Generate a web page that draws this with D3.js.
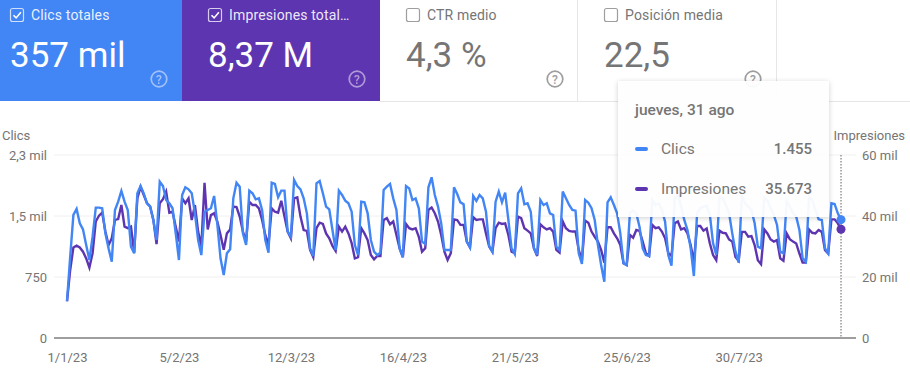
<!DOCTYPE html>
<html>
<head>
<meta charset="utf-8">
<script src="https://cdn.jsdelivr.net/npm/d3@7"></script>
<style>
  body { margin: 0; background: #fff; }
  svg { display: block; font-family: Roboto, sans-serif; }
</style>
</head>
<body>
<svg id="chart" width="910" height="391"></svg>
<script>
// one row per week, starting Sunday 1/1/23
const clicks = [
  455, 1000, 1513, 1586, 1410, 1336, 1143,
  959, 1246, 1603, 1603, 1595, 1287, 1102,
  939, 1574, 1676, 1808, 1676, 1574, 1123,
  1041, 1779, 1869, 1779, 1656, 1615, 1451,
  1205, 1922, 1869, 1697, 1656, 1595, 1287,
  959, 1758, 1853, 1828, 1779, 1533, 1205,
  1020, 1553, 1574, 1595, 1746, 1400, 980,
  775, 1041, 1090, 1717, 1910, 1861, 1287,
  1143, 1812, 1779, 1705, 1717, 1574, 1205,
  1049, 1910, 1894, 1730, 1812, 1812, 1308,
  1246, 1943, 1869, 1828, 1717, 1533, 1102,
  1008, 1902, 1931, 1779, 1615, 1582, 1328,
  1082, 1812, 1758, 1689, 1656, 1553, 1143,
  1020, 1676, 1668, 1533, 1205, 1062, 1020,
  1049, 1820, 1861, 1894, 1717, 1574, 1102,
  992, 1869, 1840, 1697, 1717, 1595, 1185,
  1156, 1853, 1976, 1758, 1615, 1410, 1082,
  1082, 1082, 1853, 1771, 1668, 1644, 1185,
  1115, 1746, 1685, 1758, 1717, 1553, 1131,
  1062, 1676, 1800, 1668, 1787, 1451, 1102,
  1033, 1779, 1840, 1644, 1656, 1553, 1102,
  1020, 1697, 1635, 1656, 1533, 1513, 1123,
  1082, 1800, 1717, 1635, 1574, 1566, 1041,
  910, 1697, 1664, 1595, 1451, 1143, 897,
  692, 1668, 1730, 1635, 1533, 1287, 918,
  897, 1541, 1566, 1533, 1369, 1102, 1020,
  1008, 1697, 1635, 1656, 1574, 1431, 1020,
  889, 1717, 1779, 1615, 1451, 1328, 1102,
  762, 1533, 1595, 1615, 1623, 1513, 1164,
  1021, 1730, 1718, 1636, 1533, 1287, 1062,
  926, 1759, 1656, 1615, 1574, 1410, 1123,
  1103, 1718, 1689, 1595, 1513, 1390, 1062,
  1041, 1677, 1615, 1533, 1492, 1328, 980,
  939, 1730, 1697, 1574, 1459, 1451, 1103,
  1041, 1656, 1648, 1533, 1455
]

const impressions = [
  12000, 22300, 29700, 30300, 29700, 28300, 26100,
  23100, 27800, 38200, 40100, 41100, 34900, 30500,
  32700, 38700, 39000, 43600, 36500, 36000, 36500,
  28000, 45800, 49600, 46900, 44200, 43100, 38700,
  30800, 44200, 45500, 48000, 41100, 41400, 36500,
  31600, 45800, 44200, 45800, 38700, 43600, 34900,
  30000, 50900, 35600, 40300, 40900, 38200, 33800,
  28900, 34300, 35600, 43100, 42900, 39800, 34900,
  31600, 44700, 43600, 43600, 42500, 38700, 33800,
  30500, 42500, 41400, 41100, 45000, 39800, 34900,
  32700, 45800, 46100, 39800, 35400, 35100, 28900,
  26500, 36000, 37800, 37400, 34300, 32700, 30200,
  28500, 36500, 34900, 36500, 34300, 31100, 26100,
  26500, 36000, 34300, 32100, 27200, 25800, 26900,
  26900, 38700, 39300, 37300, 38200, 33800, 29400,
  26500, 37400, 36000, 35600, 36000, 33200, 28300,
  29400, 42000, 42800, 40900, 38200, 33800, 28300,
  25600, 27800, 38900, 38700, 37100, 37100, 31600,
  29700, 39600, 38700, 38900, 38900, 34300, 30000,
  28300, 36000, 37800, 37400, 37600, 33800, 28300,
  27800, 39800, 39300, 36000, 35200, 34300, 29400,
  26900, 37300, 36300, 35600, 36000, 34900, 28900,
  28000, 38200, 36000, 35100, 34900, 34900, 28900,
  25400, 38500, 37800, 34900, 33200, 31600, 28900,
  24700, 36300, 36300, 34300, 32700, 30500, 24500,
  23900, 33800, 32900, 35400, 35100, 31600, 27800,
  26900, 37100, 36000, 36300, 34900, 32700, 27800,
  26900, 37600, 38200, 35600, 36000, 34300, 30500,
  25000, 36700, 36700, 35200, 35900, 31000, 27200,
  25500, 35200, 34500, 34300, 32300, 31600, 26600,
  25300, 34800, 34800, 33200, 33400, 30500, 25500,
  24200, 35600, 34300, 32300, 31600, 32100, 26100,
  25300, 34300, 32400, 31600, 31000, 27700, 24700,
  24700, 35600, 34500, 34300, 35400, 34800, 28800,
  27700, 38900, 38900, 37600, 35673
]

const leftTicks = [0, 750, 1500, 2250]
const leftLabels = ["0", "750", "1,5 mil", "2,3 mil"]
const rightTicks = [0, 20000, 40000, 60000]
const rightLabels = ["0", "20 mil", "40 mil", "60 mil"]
const dateTicks = [0, 35, 70, 105, 140, 175, 210]
const dateLabels = ["1/1/23", "5/2/23", "12/3/23", "16/4/23", "21/5/23", "25/6/23", "30/7/23"]

const metricNames = ["Clics totales", "Impresiones total…", "CTR medio", "Posición media"]
const metricValues = ["357 mil", "8,37 M", "4,3 %", "22,5"]

const BLUE = "#4285f4"
const PURPLE = "#5e35b1"
const GREY = "#757575"

const svg = d3.select("#chart")
const margin = { left: 54, right: 856, top: 155, bottom: 338 }

// Scales
const xScale = d3.scaleLinear().domain([0, clicks.length - 1]).range([67, 841])
const yClicks = d3.scaleLinear().domain([0, 2250]).range([margin.bottom, margin.top])
const yImpr = d3.scaleLinear().domain([0, 60000]).range([margin.bottom, margin.top])

// Metric cards, the first one is narrower with a smaller inset
const cardX = d3.scaleBand().domain(metricNames).range([-16, 776]).padding(0)
const inset = i => i == 0 ? 10 : 26

const cards = svg.selectAll("g.card")
  .data(metricNames)
  .enter().append("g")
  .attr("class", "card")
  .attr("transform", (d, i) => "translate(" + (i == 0 ? 0 : cardX(d)) + ",0)")

cards.append("rect")
  .attr("width", (d, i) => i == 0 ? 182 : 198)
  .attr("height", 101)
  .attr("fill", (d, i) => [BLUE, PURPLE, "#fff", "#fff"][i])

cards.append("rect")
  .attr("x", (d, i) => inset(i) + .5)
  .attr("y", 8.5)
  .attr("width", 13)
  .attr("height", 13)
  .attr("rx", 2)
  .attr("fill", "none")
  .attr("stroke", (d, i) => i < 2 ? "rgba(255,255,255,.75)" : "#9e9e9e")
  .attr("stroke-width", 1.2)

cards.filter((d, i) => i < 2).append("path")
  .attr("transform", (d, i) => "translate(" + (inset(i) + .5) + ",8.5)")
  .attr("d", "M3 6.8 L5.6 9.4 L10.4 3.8")
  .attr("fill", "none")
  .attr("stroke", "#fff")
  .attr("stroke-width", 1.6)

cards.append("text")
  .attr("x", (d, i) => inset(i) + 21)
  .attr("y", 20)
  .attr("font-size", "14px")
  .attr("letter-spacing", ".15px")
  .attr("fill", (d, i) => i < 2 ? "rgba(255,255,255,.9)" : GREY)
  .text(d => d)

cards.append("text")
  .attr("x", (d, i) => inset(i))
  .attr("y", 67)
  .attr("font-size", "35px")
  .attr("fill", (d, i) => i < 2 ? "#fff" : GREY)
  .text((d, i) => metricValues[i])

const help = cards.append("g")
  .attr("transform", (d, i) => "translate(" + (i == 0 ? 159 : 175) + ",79)")
  .attr("opacity", (d, i) => i < 2 ? .5 : 1)
help.append("circle")
  .attr("r", 7.8)
  .attr("fill", "none")
  .attr("stroke", (d, i) => i < 2 ? "#fff" : "#9e9e9e")
  .attr("stroke-width", 1.7)
help.append("text")
  .attr("text-anchor", "middle")
  .attr("y", 4.5)
  .attr("font-size", "12px")
  .attr("font-weight", 500)
  .attr("fill", (d, i) => i < 2 ? "#fff" : "#9e9e9e")
  .text("?")

// card borders
svg.append("line").attr("x1", 380).attr("x2", 910).attr("y1", 101.5).attr("y2", 101.5).attr("stroke", "#e6e6e6")
svg.selectAll("line.sep")
  .data([577.5, 776.5])
  .enter().append("line")
  .attr("class", "sep")
  .attr("x1", d => d).attr("x2", d => d)
  .attr("y1", 0).attr("y2", 101)
  .attr("stroke", "#e6e6e6")

// Gridlines
svg.append("g").selectAll("line")
  .data(leftTicks.slice(1))
  .enter().append("line")
  .attr("x1", margin.left).attr("x2", margin.right)
  .attr("y1", d => yClicks(d)).attr("y2", d => yClicks(d))
  .attr("stroke", "#f0f0f0")

// Axes
const leftAxis = svg.append("g")
  .attr("transform", "translate(" + margin.left + ",0)")
  .call(d3.axisLeft(yClicks).tickValues(leftTicks).tickSize(0).tickPadding(7)
    .tickFormat((d, i) => leftLabels[i]))
const rightAxis = svg.append("g")
  .attr("transform", "translate(" + margin.right + ",0)")
  .call(d3.axisRight(yImpr).tickValues(rightTicks).tickSize(0).tickPadding(6)
    .tickFormat((d, i) => rightLabels[i]))
const bottomAxis = svg.append("g")
  .attr("transform", "translate(0," + margin.bottom + ")")
  .call(d3.axisBottom(xScale).tickValues(dateTicks).tickSize(0).tickPadding(15)
    .tickFormat((d, i) => dateLabels[i]))

;[leftAxis, rightAxis, bottomAxis].forEach(axis => {
  axis.select(".domain").remove()
  axis.selectAll("text")
    .attr("fill", GREY)
    .attr("font-family", "Roboto, sans-serif")
    .attr("font-size", "13px")
})

svg.append("line")
  .attr("x1", margin.left).attr("x2", margin.right)
  .attr("y1", margin.bottom).attr("y2", margin.bottom)
  .attr("stroke", "#9e9e9e")
  .attr("stroke-width", 2)

// Axis titles
svg.append("text").attr("x", 2).attr("y", 140).attr("font-size", "13px").attr("fill", GREY).text("Clics")
svg.append("text").attr("x", 905).attr("y", 140).attr("text-anchor", "end").attr("font-size", "13px").attr("fill", GREY).text("Impresiones")

// Hover line
svg.append("line")
  .attr("x1", xScale(clicks.length - 1)).attr("x2", xScale(clicks.length - 1))
  .attr("y1", margin.top).attr("y2", margin.bottom)
  .attr("stroke", "#616161")
  .attr("stroke-dasharray", "1.5,1.5")

// Lines
const imprLine = d3.line().x((d, i) => xScale(i)).y(d => yImpr(d))
const clickLine = d3.line().x((d, i) => xScale(i)).y(d => yClicks(d))

svg.append("path").datum(impressions)
  .attr("d", imprLine)
  .attr("fill", "none")
  .attr("stroke", PURPLE)
  .attr("stroke-width", 2.4)
svg.append("path").datum(clicks)
  .attr("d", clickLine)
  .attr("fill", "none")
  .attr("stroke", BLUE)
  .attr("stroke-width", 2.4)

svg.append("circle")
  .attr("cx", xScale(impressions.length - 1))
  .attr("cy", yImpr(impressions[impressions.length - 1]))
  .attr("r", 4.5)
  .attr("fill", PURPLE)
svg.append("circle")
  .attr("cx", xScale(clicks.length - 1))
  .attr("cy", yClicks(clicks[clicks.length - 1]))
  .attr("r", 4.5)
  .attr("fill", BLUE)

// Tooltip
const shadow = svg.append("defs").append("filter")
  .attr("id", "tip-shadow")
  .attr("x", "-10%").attr("y", "-10%").attr("width", "120%").attr("height", "120%")
shadow.append("feDropShadow")
  .attr("dx", 0).attr("dy", 1).attr("stdDeviation", 2.5)
  .attr("flood-color", "#000").attr("flood-opacity", .2)

const tip = svg.append("g").attr("transform", "translate(618,81)")
tip.append("rect")
  .attr("width", 211)
  .attr("height", 136)
  .attr("fill", "rgba(255,255,255,.94)")
  .attr("filter", "url(#tip-shadow)")
tip.append("text")
  .attr("x", 17).attr("y", 34)
  .attr("font-size", "15.5px").attr("font-weight", 500).attr("fill", GREY)
  .text("jueves, 31 ago")

const tipNames = ["Clics", "Impresiones"]
const tipValues = [clicks[clicks.length - 1], impressions[impressions.length - 1]]
const tipRows = tip.selectAll("g.row")
  .data(tipNames)
  .enter().append("g")
  .attr("class", "row")
  .attr("transform", (d, i) => "translate(0," + (73 + i * 40) + ")")
tipRows.append("rect")
  .attr("x", 17).attr("y", -7)
  .attr("width", 13).attr("height", 4)
  .attr("rx", 2)
  .attr("fill", (d, i) => i == 0 ? BLUE : PURPLE)
tipRows.append("text")
  .attr("x", 43)
  .attr("font-size", "15.5px").attr("fill", GREY)
  .text(d => d)
tipRows.append("text")
  .attr("x", 194)
  .attr("text-anchor", "end")
  .attr("font-size", "15px").attr("font-weight", 500).attr("fill", GREY)
  .text((d, i) => d3.format(",")(tipValues[i]).replace(",", "."))
</script>
</body>
</html>
